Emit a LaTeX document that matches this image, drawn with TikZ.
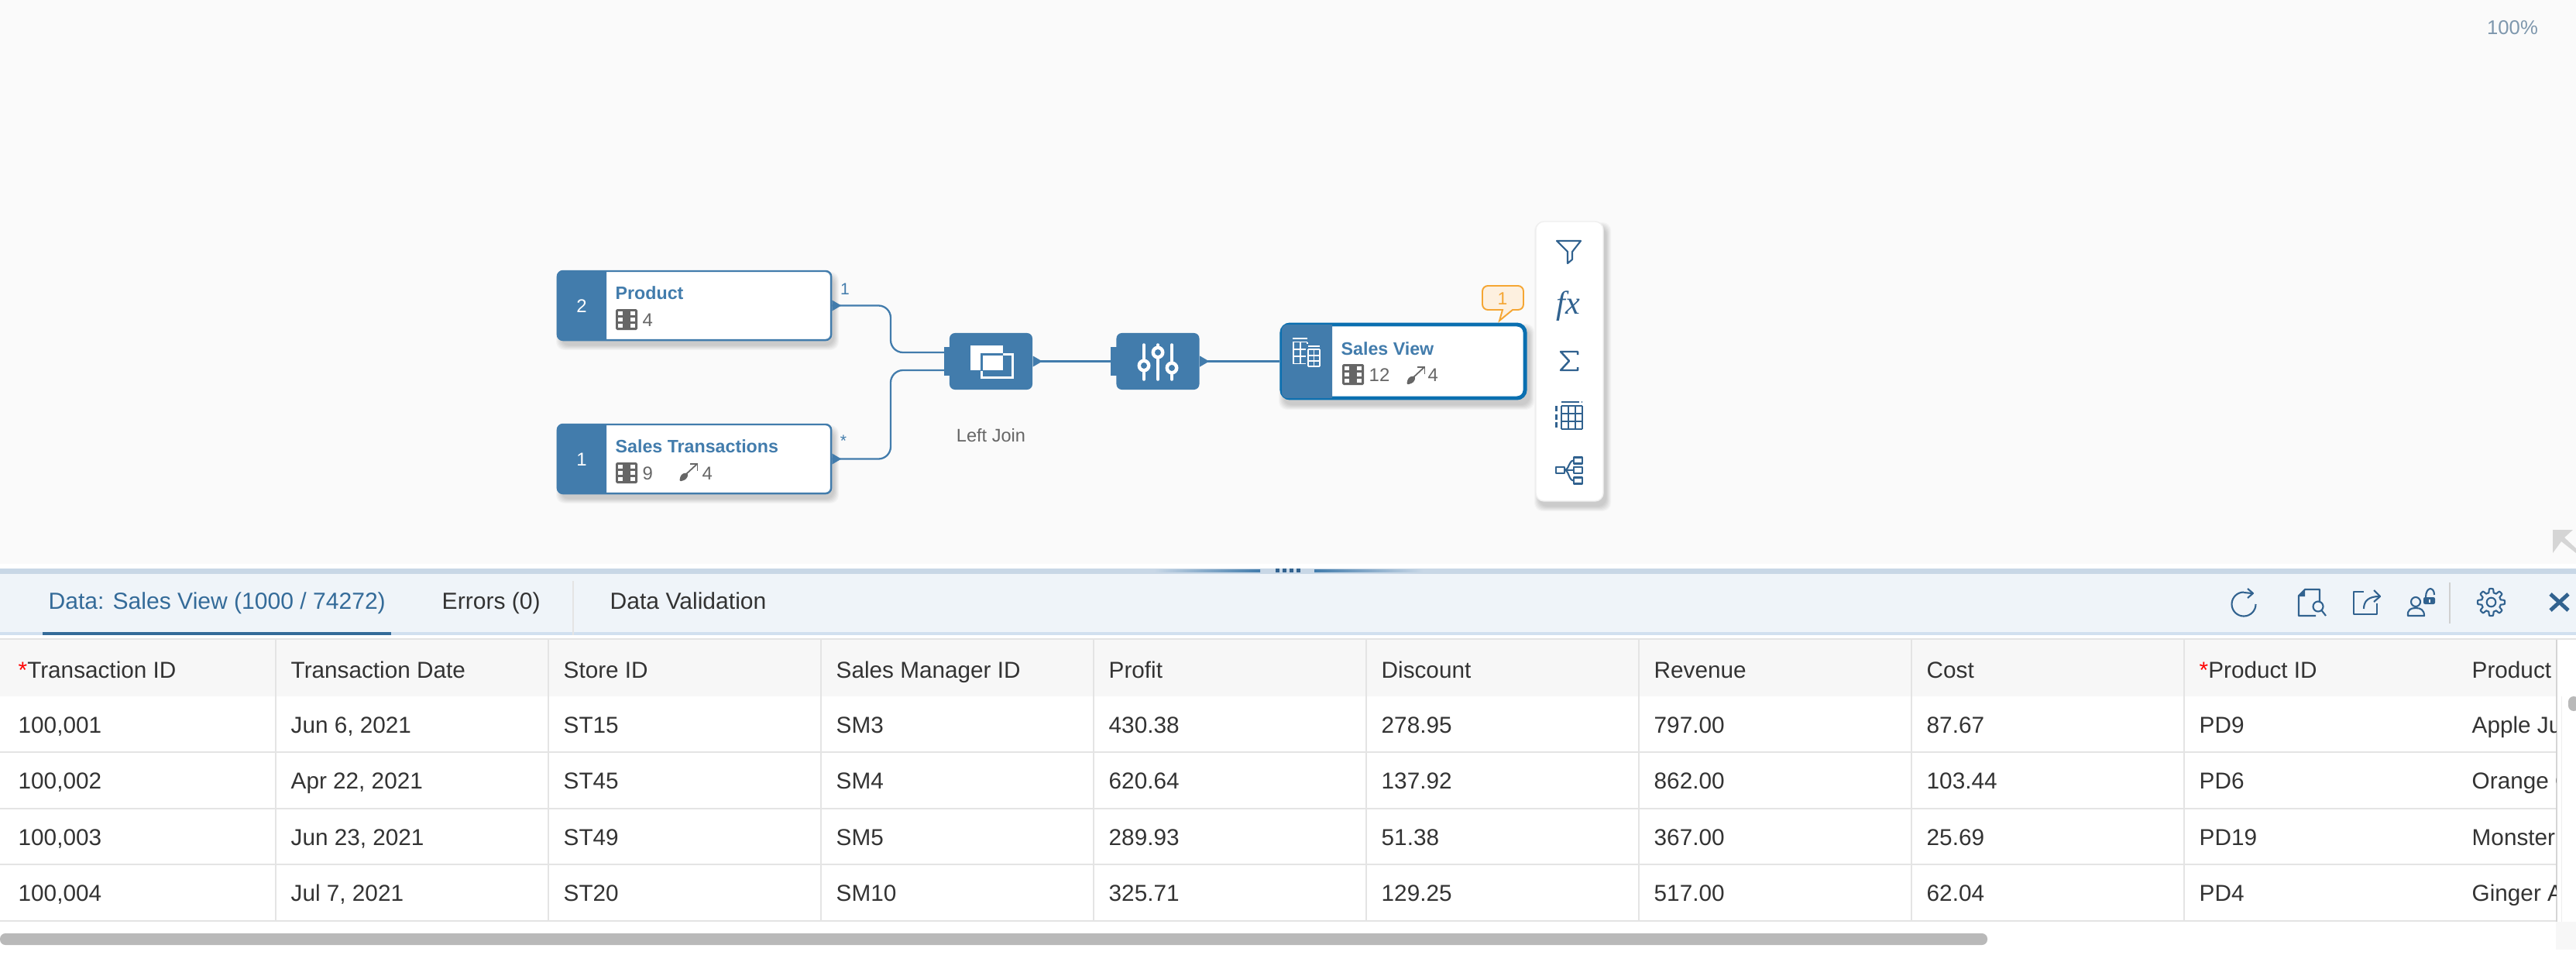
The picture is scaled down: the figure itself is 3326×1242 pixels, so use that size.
\documentclass[tikz,border=0pt]{standalone}
\usepackage{fontspec}
\setmainfont{Liberation Sans}
\newfontfamily\fxfont{Liberation Serif}
\usepackage{xcolor,tikz}
\usetikzlibrary{calc,positioning}
\tikzset{>=stealth}
\definecolor{accent}{HTML}{427CAC}
\definecolor{picked}{HTML}{0A6FB0}
\definecolor{toolblue}{HTML}{31628F}
\definecolor{canvasbg}{HTML}{FAFAFA}
\definecolor{panelbg}{HTML}{EFF4F9}
\definecolor{splitbar}{HTML}{C8D7E6}
\definecolor{tabline}{HTML}{D1E0EF}
\definecolor{activetab}{HTML}{346B99}
\definecolor{gridline}{HTML}{E4E4E4}
\definecolor{headbg}{HTML}{F7F7F7}
\definecolor{ink}{HTML}{333333}
\definecolor{statgray}{HTML}{666666}
\definecolor{warnline}{HTML}{F5A633}
\definecolor{warnfill}{HTML}{FDF0DF}
\tikzset{
  celltext/.style={anchor=base west, inner sep=0pt, text=ink, font=\fontsize{8.45}{10}\selectfont},
  tabtext/.style={anchor=base west, inner sep=0pt, font=\fontsize{8.55}{10}\selectfont},
  boxtitle/.style={anchor=base west, inner sep=0pt, text=accent, font=\bfseries\fontsize{6.6}{8}\selectfont},
  stat/.style={anchor=base west, inner sep=0pt, text=statgray, font=\fontsize{6.8}{8}\selectfont},
  srcbox/.style={draw=accent, line width=.7pt, fill=white, rounded corners=2pt, inner sep=0pt, minimum width=3.53cm, minimum height=.89cm},
  opbox/.style={fill=accent, rounded corners=2pt, inner sep=0pt, minimum width=1.07cm, minimum height=.73cm},
  viewbox/.style={draw=picked, line width=1.4pt, fill=white, rounded corners=3pt, inner sep=0pt, minimum width=3.14cm, minimum height=.95cm},
  wire/.style={draw=accent, line width=.65pt, rounded corners=4.5pt},
  toolline/.style={draw=toolblue, line width=.6pt, line join=round},
  colicon/.pic={
    \fill[statgray, rounded corners=.5pt] (0,0) rectangle (28,27);
    \foreach \cx in {3,19} \foreach \cy in {3,10.7,19}
      \fill[white] (\cx,\cy) rectangle ++(6,5.2);
  },
  linkicon/.pic={
    \fill[statgray, rounded corners=.8pt] (0,24) -- (2,15) -- (8,12) -- (12,14) -- (9,21) -- cycle;
    \draw[statgray, line width=.5pt] (8,15) -- (23,1);
    \draw[statgray, line width=.5pt] (14,1) -- (23.5,1) -- (23.5,10);
  },
  outport/.pic={\fill[accent] (0,-7) -- (12,0) -- (0,7) -- cycle;},
  inport/.pic={\fill[accent] (-7,-18.5) rectangle (1,18.5);},
}
\newcommand{\softshadow}[4]{
  \foreach \g in {0,...,6}
    \fill[black, opacity=.028, rounded corners=3pt] (#1+4-\g,#2+7-\g) rectangle (#3+4+\g,#4+7+\g);
}
\newcommand{\stripfill}[4]{
  \fill[accent] (#3,#2) [rounded corners=2pt] -- (#1,#2) -- (#1,#4) [sharp corners] -- (#3,#4) -- cycle;
}
\begin{document}
\begin{tikzpicture}[x=.01cm, y=-.01cm]
\useasboundingbox (0,0) rectangle (3326,1242);
\fill[white] (0,0) rectangle (3326,1242);
\fill[canvasbg] (0,0) rectangle (3326,728);
\node[inner sep=0pt, text=accent!55!gray!80, font=\fontsize{7.3}{9}\selectfont] (zoomlevel) at (3244,36) {100\%};
\fill[gridline!85!gray] (3296,684) -- (3322,684) -- (3311,694) -- (3326,708) -- (3326,714) -- (3307,699) -- (3296,714) -- cycle;

\softshadow{720}{350}{1073}{439}
\softshadow{720}{548}{1073}{637}
\softshadow{1653}{417}{1971}{516}
\softshadow{1983}{286}{2070}{647}

\coordinate (bendx) at (1150,0);
\coordinate (joinup) at (1220,455);
\coordinate (joindown) at (1220,478);
\node[srcbox] (product) at (896.5,394.5) {};
\node[srcbox] (sales) at (896.5,592.5) {};
\node[opbox] (join) at (1279.5,466.5) {};
\node[opbox] (tune) at (1495,466.5) {};
\node[viewbox] (view) at (1812,466.5) {};

\draw[wire] (product.east) -- (bendx|-product.east) -- (bendx|-joinup) -- (joinup);
\draw[wire] (sales.east) -- (bendx|-sales.east) -- (bendx|-joindown) -- (joindown);
\draw[wire] (join.east) -- (tune.west);
\draw[wire] (tune.east) -- (view.west);

\stripfill{720}{350}{783}{439}
\stripfill{720}{548}{783}{637}
\stripfill{1655}{419}{1720}{514}
\pic at (product.east) {outport};
\pic at (sales.east) {outport};
\pic at (join.east) {outport};
\pic at (tune.east) {outport};
\pic at (tune.west) {inport};
\fill[accent] (1219,448) rectangle (1227,485);

\node[inner sep=0pt, text=white, font=\fontsize{6.8}{8}\selectfont] (productnum) at (751,395) {2};
\node[inner sep=0pt, text=white, font=\fontsize{6.8}{8}\selectfont] (salesnum) at (751,593) {1};
\node[boxtitle] (producttitle) at (794,386) {Product};
\node[boxtitle] (salestitle) at (794,584) {Sales Transactions};
\node[boxtitle] (viewtitle) at (1731,458) {Sales View};
\pic at (795,399) {colicon};
\node[stat] (productcols) at (829,421) {4};
\pic at (795,597) {colicon};
\node[stat] (salescols) at (829,619) {9};
\pic at (877,598) {linkicon};
\node[stat] (saleslinks) at (906,619) {4};
\pic at (1733,470) {colicon};
\node[stat] (viewcols) at (1767,492) {12};
\pic at (1816,473) {linkicon};
\node[stat] (viewlinks) at (1843,492) {4};
\node[inner sep=0pt, text=accent, font=\fontsize{6}{7}\selectfont] (onelabel) at (1091,373) {1};
\node[inner sep=0pt, text=accent, font=\fontsize{6}{7}\selectfont] (manylabel) at (1089,569) {*};
\node[inner sep=0pt, text=statgray, font=\fontsize{6.7}{8}\selectfont, below=14pt of join.south] (joinlabel) {Left Join};

% join glyph
\fill[white] (1253,446) rectangle (1295,478);
\draw[white, line width=.8pt] (1267.5,457.5) rectangle (1307.5,487.5);
\begin{scope}
\clip (1253,446) rectangle (1295,478);
\draw[accent, line width=.8pt] (1267.5,457.5) rectangle (1307.5,487.5);
\end{scope}

% sliders glyph
\foreach \sx/\sy in {1477/472, 1495/455, 1513/475} {
  \draw[white, line width=1pt, line cap=round] (\sx,445) -- (\sx,490);
  \fill[white] (\sx,\sy) circle [x radius=.085cm, y radius=.085cm];
  \fill[accent] (\sx,\sy) circle [radius=.04cm];
}

% view glyph
\foreach \gy in {437,441.5,451,460,469.5} \draw[white, line width=.45pt] (1669,\gy) -- (1688,\gy);
\foreach \gx in {1670,1679,1688} \draw[white, line width=.45pt] (\gx,442) -- (\gx,469.5);
\fill[accent] (1686,444) rectangle (1707,475);
\foreach \gy in {447,451,459,466,473} \draw[white, line width=.45pt] (1689,\gy) -- (1704,\gy);
\foreach \gx in {1689,1696.5,1704} \draw[white, line width=.45pt] (\gx,451) -- (\gx,473);

\draw[warnline, fill=warnfill, line width=.55pt] (1914,369) [rounded corners=2pt] -- (1967,369) -- (1967,400) [sharp corners] -- (1953,400) -- (1936,414) -- (1940,400) [rounded corners=2pt] -- (1914,400) -- cycle;
\node[inner sep=0pt, text=warnline, font=\fontsize{6.5}{8}\selectfont] (warncount) at (1940,386) {1};

% side toolbar
\draw[gridline!60, fill=white, rounded corners=3pt, line width=.4pt] (1983,286) rectangle (2070,647);
\draw[toolline] (2010,311) -- (2041,311) -- (2030,325) -- (2030,335) -- (2024,340) -- (2024,325) -- cycle;
\node[inner sep=0pt, text=toolblue, font=\fxfont\itshape\fontsize{12}{14}\selectfont] (fxmark) at (2025,395) {fx};
\draw[toolline, line width=.7pt] (2037,458) -- (2037,454) -- (2015,454) -- (2026,466) -- (2015,478) -- (2037,478) -- (2037,474);
\foreach \gx in {2016,2025,2034,2043} \draw[toolline] (\gx,524) -- (\gx,554);
\foreach \gy in {524,534,544,554} \draw[toolline] (2016,\gy) -- (2043,\gy);
\draw[toolline, dash pattern=on 6.5 pt off 1pt] (2016,519) -- (2043,519);
\draw[toolline, dash pattern=on 2pt off 1pt] (2009.5,524) -- (2009.5,555);
\draw[toolline] (2009,603) rectangle (2020,611);
\foreach \gy in {594.5,607,620.5} {
  \draw[toolline] (2032,\gy-4) rectangle (2043,\gy+4);
  \draw[toolline] (2020,607) .. controls (2026,607) and (2025,\gy) .. (2032,\gy);
}

% bottom panel
\fill[panelbg] (0,741) rectangle (3326,816);
\fill[splitbar] (0,734) rectangle (3326,741);
\fill[left color=splitbar, right color=accent] (1490,735.5) rectangle (1627,738);
\fill[left color=accent, right color=splitbar] (1697,735.5) rectangle (1837,738);
\foreach \dx in {1647,1656,1665,1674} \fill[toolblue] (\dx,734) rectangle ++(4.5,5);
\fill[tabline] (0,816) rectangle (3326,820);
\fill[activetab] (55,816) rectangle (505,820);
\fill[gridline] (739,750) rectangle (741,820);
\fill[gridline!80!gray] (3162,752) rectangle (3164,805);
\node[tabtext, text=activetab] (datatab) at (62,786) {Data: Sales View (1000 / 74272)};
\node[tabtext, text=ink] (errortab) at (570,786) {Errors (0)};
\node[tabtext, text=ink] (checktab) at (787,786) {Data Validation};

% refresh
\draw[toolline] (2897,764.5) arc [start angle=90, end angle=360, radius=.155cm];
\draw[toolline] (2897,765) -- (2908,766);
\draw[toolline] (2902,760) -- (2909,766) -- (2902,772);
% preview
\draw[toolline] (2995,778) -- (2995,761) -- (2976,761) -- (2968,769) -- (2968,795) -- (2990,795);
\fill[toolblue] (2976,761) -- (2976,770) -- (2968,770) -- cycle;
\draw[toolline] (2993,783) circle [radius=.065cm];
\draw[toolline] (2997.5,788) -- (3003,795);
% share
\draw[toolline] (3052,764) -- (3039,764) -- (3039,793) -- (3069,793) -- (3069,779);
\draw[toolline] (3052,786) .. controls (3052,776) and (3058,770) .. (3072,770);
\draw[toolline] (3065,762) -- (3073,770) -- (3065,777);
% user and lock
\draw[toolline] (3119,777) circle [radius=.06cm];
\draw[toolline] (3109,795) .. controls (3108,787) and (3113,785) .. (3119,785) .. controls (3125,785) and (3130,787) .. (3130,795) -- cycle;
\fill[toolblue, rounded corners=.6pt] (3129,771) rectangle (3144,780);
\fill[white] (3135.5,773.5) rectangle (3138,778);
\draw[toolline] (3132,771) .. controls (3132,757) and (3143,757) .. (3143,768);
% settings
\draw[toolline] plot [domain=0:360, samples=145] ({3216.5+(15+2.5*max(-1,min(1,2.5*cos(8*\x))))*cos(\x)},{777.5+(15+2.5*max(-1,min(1,2.5*cos(8*\x))))*sin(\x)}) -- cycle;
\draw[toolline] (3216.5,777.5) circle [radius=.058cm];
% close
\draw[toolblue, line width=1.4pt] (3293,767) -- (3316,788);
\draw[toolblue, line width=1.4pt] (3316,767) -- (3293,788);

% data table
\fill[gridline] (0,824) rectangle (3326,826);
\fill[headbg] (0,826) rectangle (3300,899);
\foreach \ly in {970,1043,1115,1188} \fill[gridline] (0,\ly) rectangle (3301,\ly+2);
\foreach \k in {0,...,7} \fill[gridline] (355+352*\k,826) rectangle (356.5+352*\k,1188);
\fill[gridline!85!gray] (3300,826) rectangle (3302,1190);
\fill[gridline!60] (3307,899) rectangle (3308,1190);
\fill[headbg] (3300,1190) rectangle (3326,1226);
\begin{scope}
\clip (0,826) rectangle (3300,1190);
\foreach \htext [count=\c from 0] in {\textcolor{red}{*}Transaction ID, Transaction Date, Store ID, Sales Manager ID, Profit, Discount, Revenue, Cost, \textcolor{red}{*}Product ID, Product}
  \node[celltext] (head\c) at (23+352*\c,875) {\htext};
\foreach \ry/\rowvals [count=\r] in {
  946/{{100,001},{Jun 6, 2021},ST15,SM3,430.38,278.95,797.00,87.67,PD9,Apple Ju},
  1018/{{100,002},{Apr 22, 2021},ST45,SM4,620.64,137.92,862.00,103.44,PD6,Orange C},
  1091/{{100,003},{Jun 23, 2021},ST49,SM5,289.93,51.38,367.00,25.69,PD19,Monster},
  1163/{{100,004},{Jul 7, 2021},ST20,SM10,325.71,129.25,517.00,62.04,PD4,Ginger A}}
  \foreach \v [count=\c from 0] in \rowvals
    \node[celltext] (cell\r-\c) at (23+352*\c,\ry) {\v};
\end{scope}
\fill[gray!55, rounded corners=2pt] (0,1205) rectangle (2566,1220);
\fill[gray!55, rounded corners=2pt] (3316,899) rectangle (3330,918);
\end{tikzpicture}
\end{document}
